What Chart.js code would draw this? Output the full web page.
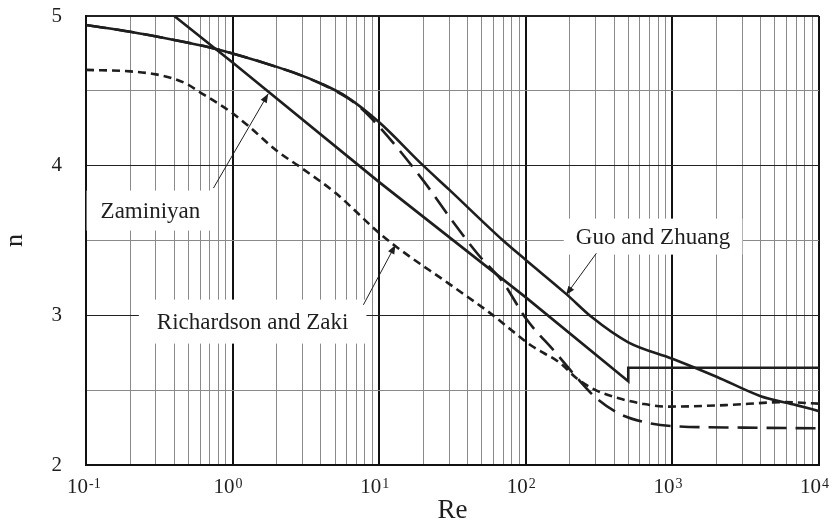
<!DOCTYPE html>
<html>
<head>
<meta charset="utf-8">
<script src="https://cdn.jsdelivr.net/npm/chart.js@4.4.1/dist/chart.umd.min.js"></script>
<style>
  html, body { margin: 0; padding: 0; background: #fff; }
  #wrap { width: 832px; height: 526px; }
</style>
</head>
<body>
<div id="wrap"><canvas id="chart" width="832" height="526"></canvas></div>
<script>
// Guo and Zhuang (solid curve)
const guoRe = [0.1, 0.2, 0.4, 0.7, 1, 2, 3, 4, 6, 10, 20, 30, 70, 100, 190, 280, 500, 1000, 2000, 4000, 7000, 10000];
const guoN = [4.94, 4.895, 4.84, 4.79, 4.75, 4.66, 4.60, 4.55, 4.46, 4.29, 4.0, 3.84, 3.50, 3.37, 3.14, 2.99, 2.82, 2.71, 2.59, 2.46, 2.40, 2.36];

// Zaminiyan (straight line with a step at Re = 500)
const zamRe = [0.4, 1, 10, 100, 500, 500, 10000];
const zamN = [5.0, 4.69, 3.89, 3.12, 2.56, 2.65, 2.65];

// long dashed curve (no label)
const modRe = [0.1, 0.2, 0.4, 0.7, 1, 2, 3, 5, 7, 10, 20, 30, 47, 70, 100, 160, 220, 300, 430, 620, 1000, 3000, 10000];
const modN = [4.94, 4.895, 4.84, 4.79, 4.75, 4.66, 4.60, 4.50, 4.41, 4.26, 3.90, 3.66, 3.41, 3.22, 2.98, 2.75, 2.59, 2.45, 2.345, 2.29, 2.26, 2.25, 2.245];

// Richardson and Zaki (short dashed)
const rzRe = [0.1, 0.2, 0.3, 0.4, 0.5, 0.6, 0.7, 1, 1.3, 2, 3, 5, 10, 13, 30, 58, 80, 108, 172, 222, 300, 430, 620, 900, 2300, 5800, 10000];
const rzN = [4.64, 4.63, 4.61, 4.58, 4.54, 4.49, 4.45, 4.35, 4.26, 4.10, 3.98, 3.82, 3.55, 3.46, 3.21, 3.01, 2.90, 2.80, 2.68, 2.58, 2.50, 2.446, 2.41, 2.39, 2.40, 2.42, 2.41];

// x axis: labelled decades and every grid line
const decades = [0.1, 1, 10, 100, 1000, 10000];
const xGrid = [];
decades.forEach((d, i) => {
  if (i === decades.length - 1) { xGrid.push(d); return; }
  for (let k = 1; k <= 9; k++) xGrid.push(+(d * k).toPrecision(3));
});

// labels with arrows, anchored in data units
const notes = [
  { text: 'Zaminiyan', re: 0.275, n: 3.70, padX: 14, padY: 20, from: [0.74, 3.85], to: [1.75, 4.48] },
  { text: 'Richardson and Zaki', re: 1.37, n: 2.958, padX: 18, padY: 22, from: [7.8, 3.07], to: [12.9, 3.47] },
  { text: 'Guo and Zhuang', re: 738, n: 3.526, padX: 12, padY: 18, from: [303, 3.415], to: [188, 3.136] }
];

const INK = '#1e1e1e';
const SERIF = '"Liberation Serif", "Times New Roman", serif';

function pts(xs, ys) {
  return xs.map((x, i) => ({ x: x, y: ys[i] }));
}
function isDecade(v) {
  const l = Math.log10(v);
  return Math.abs(l - Math.round(l)) < 1e-6;
}
function line(xs, ys, dash, smooth) {
  return {
    data: pts(xs, ys),
    showLine: true,
    borderColor: INK,
    borderWidth: 2.6,
    borderDash: dash,
    pointRadius: 0,
    cubicInterpolationMode: smooth ? 'monotone' : 'default',
    tension: 0
  };
}

function arrow(ctx, x0, y0, x1, y1) {
  ctx.beginPath();
  ctx.moveTo(x0, y0);
  ctx.lineTo(x1, y1);
  ctx.stroke();
  const a = Math.atan2(y1 - y0, x1 - x0), L = 9, W = 3.5;
  ctx.beginPath();
  ctx.moveTo(x1, y1);
  ctx.lineTo(x1 - L * Math.cos(a) + W * Math.sin(a), y1 - L * Math.sin(a) - W * Math.cos(a));
  ctx.lineTo(x1 - L * Math.cos(a) - W * Math.sin(a), y1 - L * Math.sin(a) + W * Math.cos(a));
  ctx.closePath();
  ctx.fill();
}

const notePlugin = {
  id: 'notes',
  beforeDatasetsDraw(chart) {
    const { ctx, scales: { x, y } } = chart;
    ctx.save();
    ctx.font = '23px ' + SERIF;
    ctx.textAlign = 'center';
    ctx.textBaseline = 'middle';
    notes.forEach(nt => {
      const cx = x.getPixelForValue(nt.re), cy = y.getPixelForValue(nt.n);
      const w = ctx.measureText(nt.text).width;
      ctx.fillStyle = '#fff';
      ctx.fillRect(cx - w / 2 - nt.padX, cy - nt.padY, w + 2 * nt.padX, 2 * nt.padY);
      ctx.fillStyle = INK;
      ctx.fillText(nt.text, cx, cy + 1);
      ctx.strokeStyle = INK;
      ctx.lineWidth = 1;
      arrow(ctx, x.getPixelForValue(nt.from[0]), y.getPixelForValue(nt.from[1]),
        x.getPixelForValue(nt.to[0]), y.getPixelForValue(nt.to[1]));
    });
    ctx.restore();
  },
  afterDraw(chart) {
    // x tick labels as 10 with a raised exponent
    const { ctx, scales: { x } } = chart;
    ctx.save();
    ctx.fillStyle = INK;
    ctx.textBaseline = 'alphabetic';
    ctx.textAlign = 'left';
    decades.forEach(d => {
      const px = x.getPixelForValue(d);
      const exp = String(Math.round(Math.log10(d)));
      ctx.font = '21px ' + SERIF;
      const wb = ctx.measureText('10').width;
      const x0 = px - wb + 2;
      ctx.fillText('10', x0, x.top + 28);
      ctx.font = '14px ' + SERIF;
      ctx.fillText(exp, x0 + wb + 1, x.top + 23);
    });
    ctx.restore();
  }
};

new Chart(document.getElementById('chart'), {
  type: 'scatter',
  data: {
    datasets: [
      line(guoRe, guoN, [], true),
      line(zamRe, zamN, [], false),
      line(modRe, modN, [20, 9], true),
      line(rzRe, rzN, [8, 5], true)
    ]
  },
  options: {
    responsive: false,
    animation: false,
    layout: { padding: { top: 16, right: 13, left: 0, bottom: 0 } },
    plugins: { legend: { display: false }, tooltip: { enabled: false } },
    scales: {
      x: {
        type: 'logarithmic',
        min: 0.1,
        max: 10000,
        afterBuildTicks: s => { s.ticks = xGrid.map(v => ({ value: v })); },
        afterFit: s => { s.height = 61; s.paddingLeft = 0; s.paddingRight = 0; },
        ticks: { display: false },
        grid: {
          drawTicks: false,
          color: c => isDecade(c.tick.value) ? '#111' : '#8a8a8a',
          lineWidth: c => c.tick.value >= 9999 ? 2 : (isDecade(c.tick.value) ? 2 : 1)
        },
        border: { color: '#111', width: 2 },
        title: {
          display: true, text: 'Re', color: INK,
          font: { family: SERIF, size: 27, lineHeight: 1 },
          padding: { top: 0, bottom: 2 }
        }
      },
      y: {
        min: 2,
        max: 5,
        afterFit: s => { s.width = 86; s.paddingTop = 0; s.paddingBottom = 0; },
        ticks: {
          stepSize: 0.5,
          padding: 24,
          color: INK,
          font: { family: SERIF, size: 21 },
          callback: v => Number.isInteger(v) ? String(v) : ''
        },
        grid: {
          drawTicks: false,
          color: c => Number.isInteger(c.tick.value) ? '#222' : '#8a8a8a',
          lineWidth: c => c.tick.value === 5 ? 2 : 1
        },
        border: { color: '#111', width: 2 },
        title: {
          display: true, text: 'n', color: INK,
          font: { family: SERIF, size: 26, lineHeight: 1 },
          padding: { top: 2, bottom: 0 }
        }
      }
    }
  },
  plugins: [notePlugin]
});
</script>
</body>
</html>
